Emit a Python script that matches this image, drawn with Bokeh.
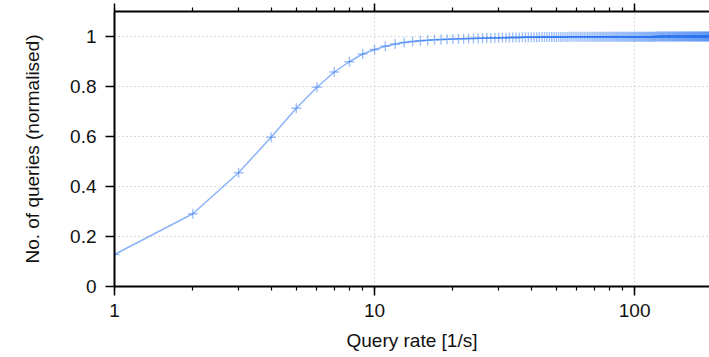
from bokeh.plotting import figure
from bokeh.models import Range1d, LogAxis, LogTicker, FixedTicker, ColumnDataSource, PrintfTickFormatter
from bokeh.embed import file_html
from bokeh.resources import INLINE

# Query rate [1/s] (integer rates)
rate = list(range(1, 201))
# Normalised cumulative number of queries
frac = [
    0.128, 0.291, 0.455, 0.597, 0.713, 0.797, 0.858, 0.899, 0.930, 0.948,
    0.961, 0.970, 0.976, 0.980, 0.983, 0.985, 0.987, 0.988, 0.989, 0.990,
    0.991, 0.991, 0.992, 0.992, 0.993, 0.993, 0.994, 0.994, 0.994, 0.995,
    0.995, 0.995, 0.996, 0.996, 0.996, 0.996, 0.997, 0.997, 0.997, 0.997,
    0.997, 0.997, 0.998, 0.998, 0.998, 0.998, 0.998, 0.998, 0.998, 0.998,
    0.998, 0.998, 0.998, 0.998, 0.998, 0.999, 0.999, 0.999, 0.999, 0.999,
    0.999, 0.999, 0.999, 0.999, 0.999, 0.999, 0.999, 0.999, 0.999, 0.999,
    0.999, 0.999, 0.999, 0.999, 0.999, 0.999, 0.999, 0.999, 0.999, 0.999,
    0.999, 0.999, 0.999, 0.999, 0.999, 0.999, 0.999, 0.999, 0.999, 0.999,
    0.999, 0.999, 0.999, 0.999, 0.999, 0.999, 0.999, 0.999, 0.999, 0.999,
    0.999, 0.999, 0.999, 0.999, 0.999, 0.999, 0.999, 0.999, 0.999, 0.999,
    0.999, 0.999, 0.999, 0.999, 0.999, 0.999, 0.999, 0.999, 0.999, 0.999,
    1.000, 1.000, 1.000, 1.000, 1.000, 1.000, 1.000, 1.000, 1.000, 1.000,
    1.000, 1.000, 1.000, 1.000, 1.000, 1.000, 1.000, 1.000, 1.000, 1.000,
    1.000, 1.000, 1.000, 1.000, 1.000, 1.000, 1.000, 1.000, 1.000, 1.000,
    1.000, 1.000, 1.000, 1.000, 1.000, 1.000, 1.000, 1.000, 1.000, 1.000,
    1.000, 1.000, 1.000, 1.000, 1.000, 1.000, 1.000, 1.000, 1.000, 1.000,
    1.000, 1.000, 1.000, 1.000, 1.000, 1.000, 1.000, 1.000, 1.000, 1.000,
    1.000, 1.000, 1.000, 1.000, 1.000, 1.000, 1.000, 1.000, 1.000, 1.000,
    1.000, 1.000, 1.000, 1.000, 1.000, 1.000, 1.000, 1.000, 1.000, 1.000,
]
y_ticks = [0, 0.2, 0.4, 0.6, 0.8, 1]
x_label = "Query rate [1/s]"
y_label = "No. of queries (normalised)"

FONT = "Liberation Sans"
BLUE = "#2a74f2"

src = ColumnDataSource(data=dict(rate=rate, frac=frac))

p = figure(width=709, height=357, x_axis_type="log",
           x_range=Range1d(1, 194), y_range=Range1d(0, 1.1),
           output_backend="svg", toolbar_location=None,
           min_border_left=114, min_border_right=0, min_border_top=11,
           min_border_bottom=71)
p.outline_line_color = None
p.background_fill_color = "white"
p.border_fill_color = "white"

p.line("rate", "frac", source=src, line_color=BLUE, line_alpha=0.55, line_width=1.5)
p.scatter("rate", "frac", source=src, marker="cross", size=10,
          line_color=BLUE, line_alpha=0.45, line_width=1.4)

# axes
xa = p.xaxis[0]
xa.ticker = LogTicker(desired_num_ticks=3, num_minor_ticks=10)
xa.formatter = PrintfTickFormatter(format="%d")
xa.axis_label = x_label
ya = p.yaxis[0]
ya.ticker = FixedTicker(ticks=y_ticks)
ya.axis_label = y_label

top = LogAxis(ticker=LogTicker(desired_num_ticks=3, num_minor_ticks=10))
top.major_label_text_font_size = "1px"
top.major_label_text_color = None
top.major_label_standoff = 0
p.add_layout(top, "above")

for ax in (xa, ya, top):
    ax.axis_line_color = "black"
    ax.axis_line_width = 2
    ax.major_tick_line_color = "black"
    ax.major_tick_line_width = 1.5
    ax.minor_tick_line_color = "black"
    ax.minor_tick_line_width = 1.2
    ax.major_tick_in = 0
    ax.minor_tick_in = 0
    ax.major_label_text_font = FONT
    ax.axis_label_text_font = FONT
    ax.axis_label_text_font_style = "normal"
    ax.axis_label_text_color = "#111111"

xa.major_label_text_color = "#111111"
ya.major_label_text_color = "#111111"

xa.major_tick_out = 9
xa.minor_tick_out = 4
xa.major_label_text_font_size = "19px"
xa.major_label_standoff = 8
xa.axis_label_text_font_size = "19px"
xa.axis_label_standoff = 10

ya.major_tick_out = 9
ya.minor_tick_out = 0
ya.major_label_text_font_size = "19px"
ya.major_label_standoff = 9
ya.axis_label_text_font_size = "19px"
ya.axis_label_standoff = 24

top.major_tick_out = 8
top.minor_tick_out = 4

# grids
p.xgrid.ticker = xa.ticker
p.ygrid.ticker = ya.ticker
for g in (p.xgrid[0], p.ygrid[0]):
    g.grid_line_color = "#bbbbbb"
    g.grid_line_dash = "1 3"
    g.grid_line_width = 1

open("out.html", "w").write(file_html(p, INLINE))
